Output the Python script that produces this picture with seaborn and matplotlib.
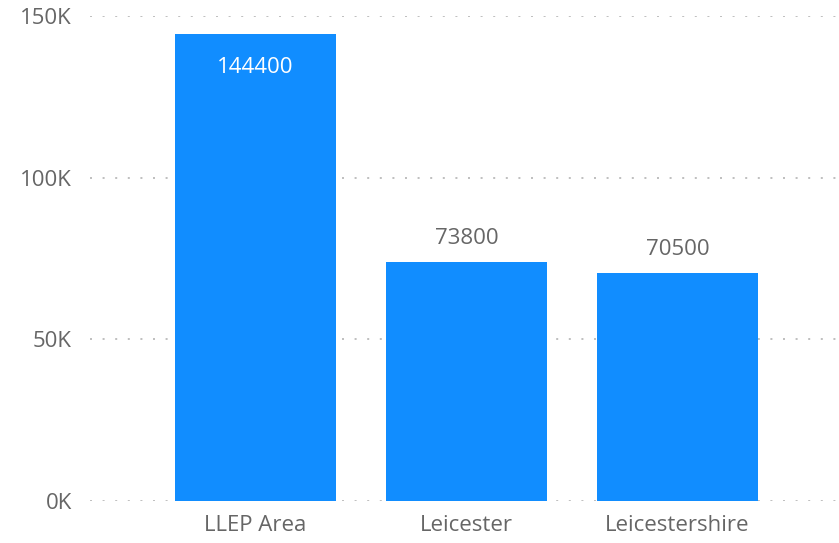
import matplotlib
matplotlib.use("Agg")
import matplotlib.pyplot as plt
import seaborn as sns
import pandas as pd

categories = ["LLEP Area", "Leicester", "Leicestershire"]
values = [144400, 73800, 70500]
ytick_vals = [0, 50000, 100000, 150000]
ytick_labels = ["0K", "50K", "100K", "150K"]

sns.set_theme(style="white")
plt.rcParams['font.family'] = ['Open Sans', 'DejaVu Sans']

df = pd.DataFrame({"cat": categories, "val": values})

fig = plt.figure(figsize=(8.39, 5.43), dpi=100)
ax = fig.add_axes([90/839, 42/543, 749/839, 485/543])

sns.barplot(data=df, x="cat", y="val", color="#118DFF", saturation=1, width=0.763,
            linewidth=0, ax=ax, zorder=3)

ax.set_ylim(0, 150000)
ax.set_xlim(-0.784, 2.765)
ax.set_yticks(ytick_vals)
ax.set_yticklabels(ytick_labels)
ax.set_xlabel("")
ax.set_ylabel("")
for s in ax.spines.values():
    s.set_visible(False)
ax.tick_params(axis='y', length=0, pad=13, labelsize=16, labelcolor="#666666")
ax.tick_params(axis='x', length=0, pad=10, labelsize=16, labelcolor="#666666")
for v in ytick_vals:
    ax.axhline(v, color="#c0c0c0", linewidth=1.44, linestyle=(0, (1, 5.3)), dash_capstyle='butt', zorder=1)

for i, v in enumerate(values):
    if v > 100000:
        ax.annotate(str(v), (i, v), xytext=(0, -24), textcoords='offset points',
                    ha='center', va='center', color='white', fontsize=16)
    else:
        ax.annotate(str(v), (i, v), xytext=(0, 17), textcoords='offset points',
                    ha='center', va='center', color='#666666', fontsize=16)

fig.savefig("out.png", dpi=100)
